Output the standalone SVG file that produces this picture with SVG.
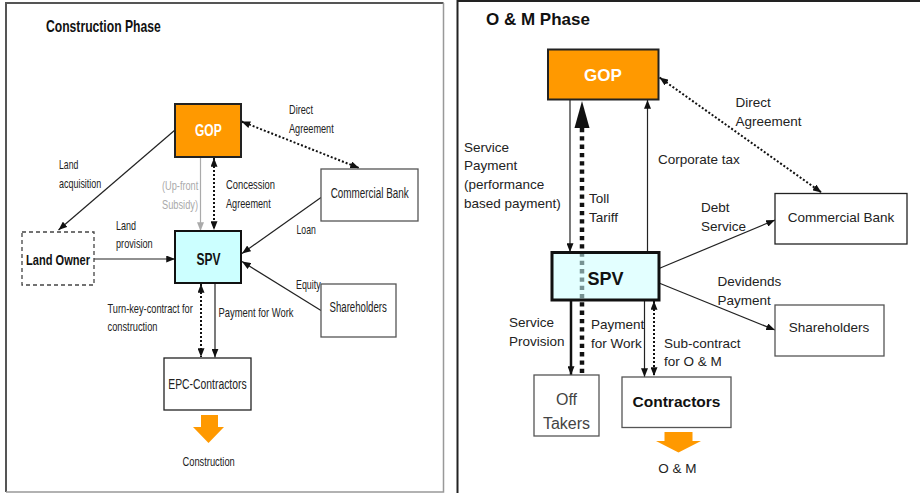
<svg xmlns="http://www.w3.org/2000/svg" width="920" height="493" viewBox="0 0 920 493">
  <style>
    .nar { font-family: "Liberation Sans", Arial, sans-serif; fill: #222; }
    .reg { font-family: "Liberation Sans", Arial, sans-serif; fill: #222; }
    .lbl { font-size: 13.5px; }
    .rl { font-size: 13.5px; }
    .box { fill: #fff; stroke: #555; stroke-width: 1.3; }
    .ln { stroke: #222; stroke-width: 1.2; fill: none; }
    .dot { stroke: #111; stroke-width: 2; stroke-dasharray: 2 2; fill: none; }
    .gop { fill: #ff9900; stroke: #222; stroke-width: 2; }
  </style>
  <defs>
    <marker id="ah" viewBox="0 0 10 8" refX="10" refY="4" markerWidth="9" markerHeight="7" markerUnits="userSpaceOnUse" orient="auto-start-reverse">
      <path d="M0,0 L10,4 L0,8 z" fill="#111"/>
    </marker>
    <marker id="ahg" viewBox="0 0 10 8" refX="10" refY="4" markerWidth="9" markerHeight="7" markerUnits="userSpaceOnUse" orient="auto">
      <path d="M0,0 L10,4 L0,8 z" fill="#aaa"/>
    </marker>
  </defs>

  <rect width="920" height="493" fill="#fff"/>

  <!-- construction phase panel -->
  <g id="panel-construction">
    <path d="M6,492 L6,3 L443.5,3" fill="none" stroke="#555" stroke-width="2"/>
    <path d="M443.5,3 L443.5,492 L6,492" fill="none" stroke="#999" stroke-width="1.5"/>
    <text class="nar" x="46" y="32" textLength="114.7" lengthAdjust="spacingAndGlyphs" style="font-size:16.5px;font-weight:bold;fill:#111">Construction Phase</text>
  </g>

  <!-- O&M phase panel -->
  <g id="panel-om">
    <path d="M457.5,493 L457.5,1 L920,1" fill="none" stroke="#222" stroke-width="2"/>
    <text class="reg" x="486" y="25" style="font-size:17px;font-weight:bold;fill:#111">O &amp; M Phase</text>
  </g>

  <!-- connectors: construction phase -->
  <g id="connectors-construction">
    <line class="ln" x1="175" y1="130" x2="58.5" y2="230" marker-end="url(#ah)"/>
    <line class="ln" x1="94" y1="259" x2="175" y2="259" marker-end="url(#ah)"/>
    <line x1="200.5" y1="157" x2="200.5" y2="231" stroke="#aaa" stroke-width="1.2" marker-end="url(#ahg)"/>
    <line class="dot" x1="214" y1="158" x2="214" y2="230" marker-start="url(#ah)" marker-end="url(#ah)"/>
    <line class="dot" x1="241.5" y1="121.5" x2="359" y2="168" marker-start="url(#ah)" marker-end="url(#ah)"/>
    <line class="ln" x1="321" y1="197.5" x2="242" y2="253.5" marker-end="url(#ah)"/>
    <line class="ln" x1="321" y1="310.5" x2="242" y2="261.5" marker-end="url(#ah)"/>
    <line class="dot" x1="201" y1="284" x2="201" y2="357" marker-start="url(#ah)" marker-end="url(#ah)"/>
    <line class="ln" x1="215" y1="283" x2="215" y2="357.5" stroke="#444" marker-end="url(#ah)"/>

    <text class="nar lbl" x="59" y="168.5" textLength="19.4" lengthAdjust="spacingAndGlyphs">Land</text>
    <text class="nar lbl" x="59" y="188" textLength="42.3" lengthAdjust="spacingAndGlyphs">acquisition</text>
    <text class="nar lbl" x="116" y="230" textLength="20" lengthAdjust="spacingAndGlyphs">Land</text>
    <text class="nar lbl" x="116" y="248" textLength="36.7" lengthAdjust="spacingAndGlyphs">provision</text>
    <text class="nar lbl" x="162" y="190" textLength="36.3" lengthAdjust="spacingAndGlyphs" style="fill:#aaa">(Up-front</text>
    <text class="nar lbl" x="162" y="209" textLength="36" lengthAdjust="spacingAndGlyphs" style="fill:#aaa">Subsidy)</text>
    <text class="nar lbl" x="226" y="189" textLength="49" lengthAdjust="spacingAndGlyphs">Concession</text>
    <text class="nar lbl" x="226" y="208" textLength="44.7" lengthAdjust="spacingAndGlyphs">Agreement</text>
    <text class="nar lbl" x="289" y="113.5" textLength="24" lengthAdjust="spacingAndGlyphs">Direct</text>
    <text class="nar lbl" x="289" y="132.5" textLength="44.7" lengthAdjust="spacingAndGlyphs">Agreement</text>
    <text class="nar lbl" x="296.5" y="234" textLength="19.3" lengthAdjust="spacingAndGlyphs">Loan</text>
    <text class="nar lbl" x="296" y="289" textLength="24.7" lengthAdjust="spacingAndGlyphs">Equity</text>
    <text class="nar lbl" x="107.5" y="313" textLength="85.3" lengthAdjust="spacingAndGlyphs">Turn-key-contract for</text>
    <text class="nar lbl" x="107.5" y="331" textLength="50" lengthAdjust="spacingAndGlyphs">construction</text>
    <text class="nar lbl" x="218.5" y="316.5" textLength="75" lengthAdjust="spacingAndGlyphs">Payment for Work</text>
  </g>

  <!-- nodes: construction phase -->
  <g id="c-gop">
    <rect class="gop" x="175" y="104" width="66" height="53"/>
    <text class="nar" x="195" y="136" textLength="26.7" lengthAdjust="spacingAndGlyphs" style="font-size:16px;font-weight:bold;fill:#fff">GOP</text>
  </g>
  <g id="c-spv">
    <rect x="175" y="231" width="66" height="52" fill="#ccffff" stroke="#111" stroke-width="2"/>
    <text class="nar" x="196.5" y="264.5" textLength="24" lengthAdjust="spacingAndGlyphs" style="font-size:16px;font-weight:bold;fill:#111">SPV</text>
  </g>
  <g id="c-landowner">
    <rect x="22" y="232" width="72" height="53" fill="#fff" stroke="#444" stroke-width="1.3" stroke-dasharray="4 3"/>
    <text class="nar" x="26" y="264.5" textLength="64" lengthAdjust="spacingAndGlyphs" style="font-size:15px;font-weight:bold;fill:#111">Land Owner</text>
  </g>
  <g id="c-bank">
    <rect class="box" x="321" y="169" width="97" height="52"/>
    <text class="nar" x="330.7" y="198" textLength="78" lengthAdjust="spacingAndGlyphs" style="font-size:14px">Commercial Bank</text>
  </g>
  <g id="c-shareholders">
    <rect class="box" x="321" y="284" width="75" height="53"/>
    <text class="nar" x="329.5" y="311.5" textLength="57.3" lengthAdjust="spacingAndGlyphs" style="font-size:14px">Shareholders</text>
  </g>
  <g id="c-epc">
    <rect x="164" y="358" width="87" height="52" fill="#fff" stroke="#222" stroke-width="1.3"/>
    <text class="nar" x="168.3" y="388.5" textLength="78.3" lengthAdjust="spacingAndGlyphs" style="font-size:14px">EPC-Contractors</text>
  </g>
  <g id="c-construction">
    <path d="M201,415 H218 V427 H224 L208.5,443 L193,427 H201 Z" fill="#ff9900"/>
    <text class="nar" x="182.5" y="466" textLength="52.3" lengthAdjust="spacingAndGlyphs" style="font-size:13.5px">Construction</text>
  </g>

  <!-- connectors: O&M phase -->
  <g id="connectors-om">
    <line class="ln" x1="570" y1="100" x2="570" y2="252" marker-end="url(#ah)"/>
    <line class="ln" x1="647.5" y1="252" x2="647.5" y2="100" marker-end="url(#ah)"/>
    <line stroke="#111" stroke-width="4.5" stroke-dasharray="4.3 4" x1="582" y1="128" x2="582" y2="375"/>
    <path d="M582,101 L589.5,128 L574.5,128 Z" fill="#111"/>
    <line class="dot" x1="659.5" y1="77.5" x2="821.5" y2="192.5" marker-start="url(#ah)" marker-end="url(#ah)"/>
    <line class="ln" x1="659" y1="268.5" x2="775" y2="220" marker-end="url(#ah)"/>
    <line class="ln" x1="659" y1="283" x2="775" y2="330" marker-end="url(#ah)"/>
    <line x1="571" y1="300" x2="571" y2="375" stroke="#111" stroke-width="2.5" marker-end="url(#ah)"/>
    <line class="ln" x1="644.5" y1="300" x2="644.5" y2="377" marker-end="url(#ah)"/>
    <line class="dot" x1="654" y1="301" x2="654" y2="376" marker-start="url(#ah)" marker-end="url(#ah)"/>

    <text class="reg rl" x="464" y="151.5">Service</text>
    <text class="reg rl" x="464" y="170">Payment</text>
    <text class="reg rl" x="464" y="189">(performance</text>
    <text class="reg rl" x="464" y="208">based payment)</text>
    <text class="reg rl" x="589" y="203">Toll</text>
    <text class="reg rl" x="589" y="222">Tariff</text>
    <text class="reg rl" x="658" y="164">Corporate tax</text>
    <text class="reg rl" x="735.5" y="106.5">Direct</text>
    <text class="reg rl" x="735.5" y="126">Agreement</text>
    <text class="reg rl" x="701" y="212">Debt</text>
    <text class="reg rl" x="701" y="231">Service</text>
    <text class="reg rl" x="717.5" y="285.5">Devidends</text>
    <text class="reg rl" x="717.5" y="304.5">Payment</text>
    <text class="reg rl" x="509" y="327">Service</text>
    <text class="reg rl" x="509" y="346">Provision</text>
    <text class="reg rl" x="591" y="329">Payment</text>
    <text class="reg rl" x="591" y="347.5">for Work</text>
    <text class="reg rl" x="664" y="347.5">Sub-contract</text>
    <text class="reg rl" x="664" y="366">for O &amp; M</text>
  </g>

  <!-- nodes: O&M phase -->
  <g id="o-gop">
    <rect class="gop" x="548" y="49.5" width="110.5" height="50"/>
    <text class="reg" x="603" y="81" text-anchor="middle" style="font-size:17px;font-weight:bold;fill:#fff">GOP</text>
  </g>
  <g id="o-spv">
    <rect x="552" y="252.5" width="107" height="47.5" fill="#ccffff" fill-opacity="0.55" stroke="#111" stroke-width="3"/>
    <text class="reg" x="605.5" y="284.5" text-anchor="middle" style="font-size:18px;font-weight:bold;fill:#111">SPV</text>
  </g>
  <g id="o-bank">
    <rect x="775" y="193.5" width="132" height="50.5" fill="#fff" stroke="#222" stroke-width="1.3"/>
    <text class="reg" x="841" y="221.5" text-anchor="middle" style="font-size:13.5px">Commercial Bank</text>
  </g>
  <g id="o-shareholders">
    <rect class="box" x="775" y="305" width="109" height="51"/>
    <text class="reg" x="829" y="332" text-anchor="middle" style="font-size:13.5px">Shareholders</text>
  </g>
  <g id="o-offtakers">
    <rect class="box" x="534" y="375" width="65" height="61"/>
    <text class="reg" x="566.5" y="404.5" text-anchor="middle" style="font-size:16px;fill:#444">Off</text>
    <text class="reg" x="566.5" y="428.5" text-anchor="middle" style="font-size:16px;fill:#444">Takers</text>
  </g>
  <g id="o-contractors">
    <rect class="box" x="622" y="377" width="109" height="50.5"/>
    <text class="reg" x="676.5" y="406.5" text-anchor="middle" style="font-size:15.5px;font-weight:bold;fill:#111">Contractors</text>
  </g>
  <g id="o-om">
    <path d="M664.5,432 H692.5 V441 H701 L678.5,452.5 L656,441 H664.5 Z" fill="#ff9900"/>
    <text class="reg" x="677.5" y="472.5" text-anchor="middle" style="font-size:13.5px">O &amp; M</text>
  </g>
</svg>
